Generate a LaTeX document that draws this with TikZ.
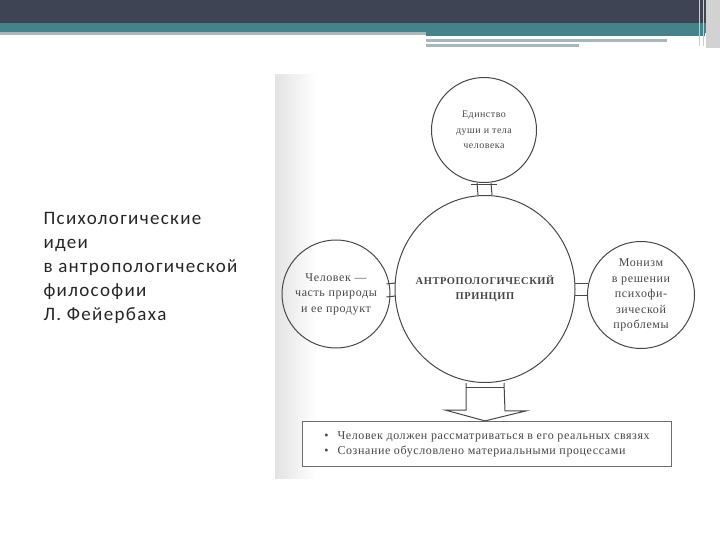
\documentclass[tikz,border=0pt]{standalone}
\usepackage{fontspec}
\setmainfont{Liberation Serif}
\newfontfamily\scanfont[LetterSpace=5]{Liberation Serif}
\newfontfamily\slidefont[LetterSpace=7]{Carlito}
\usetikzlibrary{shapes.geometric,positioning,calc}

\definecolor{barDark}{HTML}{3F4455}
\definecolor{barTeal}{HTML}{45828A}
\definecolor{barGray}{HTML}{A8B8BA}
\definecolor{scanInk}{HTML}{474747}

\begin{document}
\begin{tikzpicture}[
    x=1pt, y=-1pt,
    bubble/.style={shape=circle, draw=scanInk, line width=1pt, align=center,
        inner sep=0pt, font=\scanfont\fontsize{12}{15.5}\selectfont, text=scanInk},
    bigbubble/.style={shape=ellipse, draw=scanInk, line width=1pt, align=center,
        inner xsep=-25pt, inner ysep=0pt, minimum width=180pt, minimum height=187pt,
        font=\scanfont\bfseries\fontsize{10.5}{15}\selectfont, text=scanInk},
    link/.style={draw=scanInk, line width=1pt},
    listbox/.style={shape=rectangle, draw=scanInk!80, line width=1.2pt, fill=white,
        align=left, inner sep=0pt, minimum width=369pt, minimum height=45pt,
        font=\scanfont\fontsize{12}{15}\selectfont, text=scanInk}
]
    \useasboundingbox (0,0) rectangle (720,540);

    % Slide header
    \fill[barDark] (0,0) rectangle (720,23);
    \fill[barTeal] (0,23) rectangle (720,33);
    \fill[barGray] (0,32) rectangle (426,35);
    \fill[barTeal] (426,33) rectangle (705,36);
    \fill[barGray] (426,39) rectangle (667,42);
    \fill[barGray] (426,44) rectangle (579,47);
    \fill[gray!35] (706,0) rectangle (720,48);
    \draw[gray!40, line width=1pt] (699,0) -- (699,46);
    \draw[gray!40, line width=1pt] (703,0) -- (703,46);

    % Slide title
    \node[anchor=north west, align=left, font=\slidefont\fontsize{19}{24}\selectfont,
        text=black!85] (Title) at (40,209)
        {Психологические\\идеи\\в антропологической\\философии\\Л. Фейербаха};

    % Scan edge
    \shade[left color=gray!22, right color=white] (275,75) rectangle (316,478);

    % Circles
    \node[bigbubble] (Principle) at (485,289) {АНТРОПОЛОГИЧЕСКИЙ\\ПРИНЦИП};
    \node[bubble, minimum size=105pt, font=\scanfont\fontsize{10}{15.5}\selectfont]
        (Unity) at (484,130) {Единство\\души и тела\\человека};
    \node[bubble, minimum size=108pt] (Nature) at (336,294) {Человек —\\часть природы\\и ее продукт};
    \node[bubble, minimum size=107pt] (Monism) at (641,295)
        {Монизм\\в решении\\психофи-\\зической\\проблемы};

    % Connectors
    \draw[link] ([xshift=-7pt]Unity.south) -- ([xshift=-7pt]Principle.north);
    \draw[link] ([xshift=7pt]Unity.south) -- ([xshift=7pt]Principle.north);
    \draw[link] ([xshift=-13pt,yshift=-2pt]Unity.south) -- ([xshift=13pt,yshift=-2pt]Unity.south);

    \draw[link] ($(Nature.east)+(-4,-10)$) -- ($(Principle.west)+(1,-6)$);
    \draw[link] ($(Nature.east)+(-4,3)$) -- ($(Principle.west)+(1,7)$);
    \draw[link] ($(Principle.east)+(-1,-6)$) -- ($(Monism.west)+(1,-12)$);
    \draw[link] ($(Principle.east)+(-1,6)$) -- ($(Monism.west)+(1,0)$);

    % Conclusions
    \node[listbox] (Conclusions) at (487,444)
        {\textbullet\hspace{9pt}Человек должен рассматриваться в его реальных связях\\
         \textbullet\hspace{9pt}Сознание обусловлено материальными процессами};

    \draw[link, fill=white] ([xshift=-19pt]Principle.south) -- ++(0,27) -- ++(-21,0)
        -- (Conclusions.north -| Principle.south) -- ++(41,-10) -- ++(-21,0)
        -- ([xshift=19pt]Principle.south);
    \draw[link] ([xshift=-19pt,yshift=-4pt]Principle.south) -- ([xshift=19pt,yshift=-4pt]Principle.south);
\end{tikzpicture}
\end{document}
